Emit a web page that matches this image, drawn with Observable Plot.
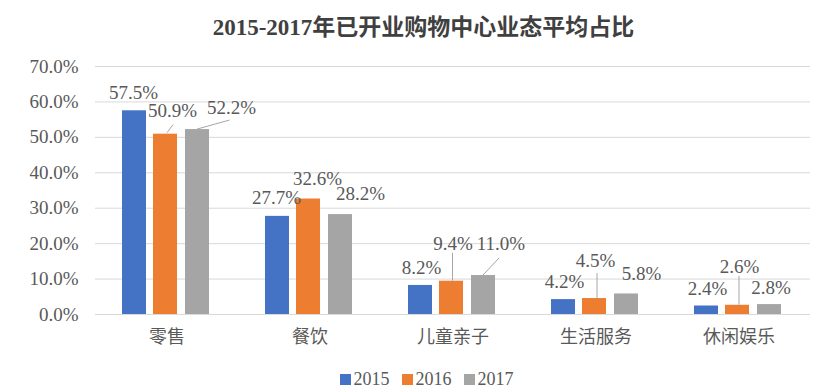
<!DOCTYPE html>
<html>
<head>
<meta charset="utf-8">
<script src="https://cdn.jsdelivr.net/npm/d3@7"></script>
<script src="https://cdn.jsdelivr.net/npm/@observablehq/plot@0.6"></script>
<style>
  html, body { margin: 0; padding: 0; background: #fff; }
  body { width: 831px; height: 390px; overflow: hidden; }
  #title {
    height: 50px; box-sizing: border-box; padding-top: 0px; padding-left: 16px;
    display: flex; align-items: center; justify-content: center;
    font-family: "Liberation Serif", "Noto Sans CJK SC", serif;
    font-weight: bold; font-size: 23px; color: #404040;
  }
  #chart svg { display: block; }
  #legend {
    height: 40px; box-sizing: border-box; padding-top: 18px; padding-left: 22px;
    display: flex; justify-content: center; align-items: center;
    font-family: "Liberation Serif", serif; font-size: 18px; color: #595959;
  }
  .li { display: flex; align-items: center; margin: 0 6px; }
  .sw { width: 11px; height: 11px; margin-right: 3px; }
</style>
</head>
<body>
<div id="title">2015-2017年已开业购物中心业态平均占比</div>
<div id="chart"></div>
<div id="legend"></div>
<script>
// ---- data ----
const categories = ["零售", "餐饮", "儿童亲子", "生活服务", "休闲娱乐"];
const years = ["2015", "2016", "2017"];
const values2015 = [57.5, 27.7, 8.2, 4.2, 2.4];
const values2016 = [50.9, 32.6, 9.4, 4.5, 2.6];
const values2017 = [52.2, 28.2, 11.0, 5.8, 2.8];
const yTicks = [0, 10, 20, 30, 40, 50, 60, 70];
const colors = ["#4472C4", "#ED7D31", "#A5A5A5"];

// ---- layout config (pixel offsets, not data) ----
const barInsets = [[27, 92], [58, 61], [90, 29]];      // per series [left, right] inside category band
// label offsets [dx from band centre, dy from bar top], per series per category
const labelOffsets = [
  [[-33.5, -18], [-33.5, -18], [-31.5, -18], [-31.5, -18], [-31.5, -17.5]],
  [[5.5, -23], [7.5, -20.5], [0, -37.5], [-0.5, -38], [0.5, -38]],
  [[64.5, -22], [50.5, -21], [48, -32], [45.5, -20.5], [32, -17]]
];
// leader lines: [category index, series index, dx1, dy1, dx2, dy2]
const leaders = [
  [0, 1, 0.5, -1, 6.5, -9],
  [0, 2, 30.5, 0, 63, -9],
  [2, 1, 0, 0, 0, -28],
  [2, 2, 30.5, 0, 46.5, -17],
  [3, 1, 1.5, 0, 1.5, -25],
  [4, 1, 0.5, 0, 0.5, -29]
];

const seriesValues = [values2015, values2016, values2017];
const series = years.map((yr, s) =>
  categories.map((c, i) => ({category: c, year: yr, value: seriesValues[s][i]}))
);
const fmt = d => d.toFixed(1) + "%";
const fontSerif = "Liberation Serif, Noto Sans CJK SC, serif";

const marks = [
  Plot.gridY(yTicks, {stroke: "#d9d9d9", strokeOpacity: 1, strokeWidth: 1}),
  Plot.axisY(yTicks, {tickSize: 0, tickPadding: 17, tickFormat: fmt, fill: "#595959",
    fontSize: 19, fontFamily: fontSerif}),
  Plot.axisX({tickSize: 0, tickPadding: 16, fill: "#595959", fontSize: 18,
    fontFamily: "Noto Sans CJK SC, sans-serif"})
];
series.forEach((data, s) => {
  marks.push(Plot.barY(data, {x: "category", y: "value", fill: colors[s],
    insetLeft: barInsets[s][0], insetRight: barInsets[s][1]}));
});
// leader lines drawn through the plot's scales
marks.push((index, scales) => {
  const {x, y} = scales;
  const bw = x.bandwidth ? x.bandwidth() : 0;
  const g = d3.create("svg:g").attr("stroke", "#a6a6a6").attr("stroke-width", 1).attr("fill", "none");
  for (const [ci, si, dx1, dy1, dx2, dy2] of leaders) {
    const d = series[si][ci];
    const cx = x(d.category) + bw / 2;
    const cy = y(d.value);
    g.append("line").attr("x1", cx + dx1).attr("y1", cy + dy1).attr("x2", cx + dx2).attr("y2", cy + dy2);
  }
  return g.node();
});
series.forEach((data, s) => {
  data.forEach((d, i) => {
    marks.push(Plot.text([d], {x: "category", y: "value", text: dd => fmt(dd.value),
      dx: labelOffsets[s][i][0], dy: labelOffsets[s][i][1],
      fill: "#595959", fontSize: 19, fontFamily: fontSerif}));
  });
});

const chart = Plot.plot({
  width: 831,
  height: 300,
  marginLeft: 95,
  marginRight: 21,
  marginTop: 16,
  marginBottom: 36,
  x: {domain: categories, padding: 0, label: null},
  y: {domain: [0, 70], label: null},
  style: {background: "#fff", overflow: "visible"},
  marks
});
document.getElementById("chart").appendChild(chart);

const legend = document.getElementById("legend");
years.forEach((yr, s) => {
  const item = document.createElement("div");
  item.className = "li";
  const sw = document.createElement("div");
  sw.className = "sw";
  sw.style.background = colors[s];
  const t = document.createElement("span");
  t.textContent = yr;
  item.appendChild(sw);
  item.appendChild(t);
  legend.appendChild(item);
});
</script>
</body>
</html>
